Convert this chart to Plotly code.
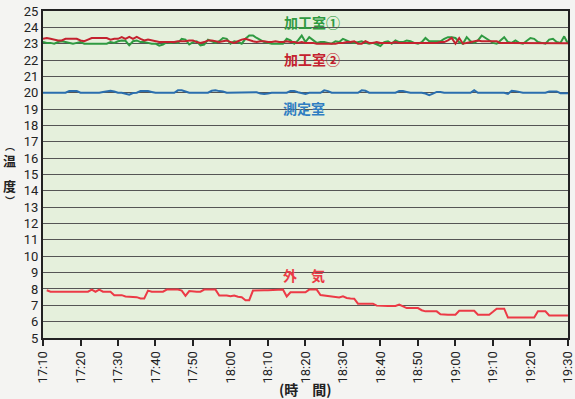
import pandas as pd
import plotly.graph_objects as go

# ---- data (per-minute readings, 17:10 -> 19:30) ----
start = "2000-01-01 17:10"
minutes = list(range(0, 141))

room1 = [23.1, 23.05, 23.05, 23.0, 23.1, 23.15, 23.1, 23.05, 23.0, 23.05,
         23.1, 23.0, 23.0, 23.0, 23.0, 23.0, 23.0, 23.0, 23.1, 23.05,
         23.15, 23.2, 23.18, 22.9, 23.15, 23.2, 23.1, 23.1, 23.05, 23.0,
         23.0, 22.88, 22.95, 23.1, 23.05, 23.1, 23.05, 23.3, 23.25, 22.95,
         23.1, 23.15, 22.9, 22.95, 23.25, 23.15, 23.05, 23.15, 23.35, 23.3,
         23.0, 23.15, 23.1, 23.0, 23.3, 23.5, 23.5, 23.35, 23.2, 23.1,
         23.05, 23.0, 23.0, 23.0, 23.0, 23.3, 23.2, 23.0, 23.2, 23.5,
         23.1, 23.4, 23.2, 23.05, 23.1, 23.1, 23.05, 23.0, 23.15, 23.1,
         23.3, 23.2, 23.1, 23.05, 23.1, 23.15, 23.05, 23.0, 23.05, 22.95,
         22.86, 23.1, 23.15, 23.0, 23.2, 23.1, 23.1, 23.2, 23.15, 23.05,
         23.0, 23.1, 23.35, 23.15, 23.15, 23.15, 23.15, 23.3, 23.4, 23.4,
         23.35, 23.1, 23.0, 23.4, 23.15, 23.05, 23.2, 23.5, 23.35, 23.2,
         23.05, 23.0, 23.2, 23.4, 23.1, 23.05, 23.2, 23.05, 23.0, 23.15,
         23.35, 23.3, 23.1, 23.05, 23.0, 23.25, 23.3, 23.1, 23.05, 23.45,
         23.0]

room2 = [23.3, 23.35, 23.3, 23.25, 23.2, 23.2, 23.3, 23.3, 23.3, 23.3,
         23.2, 23.15, 23.25, 23.35, 23.35, 23.35, 23.35, 23.35, 23.25, 23.3,
         23.3, 23.4, 23.3, 23.42, 23.3, 23.42, 23.3, 23.2, 23.25, 23.2,
         23.15, 23.1, 23.1, 23.1, 23.1, 23.1, 23.15, 23.15, 23.15, 23.2,
         23.2, 23.1, 23.05, 23.1, 23.2, 23.2, 23.15, 23.1, 23.15, 23.2,
         23.1, 23.05, 23.15, 23.25, 23.3, 23.2, 23.15, 23.1, 23.15, 23.15,
         23.1, 23.1, 23.15, 23.1, 23.1, 23.15, 23.1, 23.1, 23.05, 23.1,
         23.05, 23.05, 23.05, 23.0, 23.0, 23.0, 23.0, 23.0, 23.0, 23.05,
         23.05, 23.1, 23.1, 23.15, 23.0, 23.0, 23.15, 23.05, 23.05, 23.1,
         23.05, 23.05, 23.05, 23.05, 23.1, 23.05, 23.05, 23.05, 23.05, 23.05,
         23.05, 23.05, 23.05, 23.05, 23.05, 23.05, 23.1, 23.1, 23.2, 23.35,
         23.0, 23.35, 23.0, 23.05, 23.1, 23.15, 23.2, 23.15, 23.15, 23.15,
         23.15, 23.15, 23.05, 23.05, 23.05, 23.02, 23.02, 23.02, 23.02, 23.02,
         23.02, 23.02, 23.02, 23.02, 23.02, 23.02, 23.02, 23.02, 23.02, 23.02,
         23.02]

measure = [20.0, 20.0, 20.0, 20.0, 20.0, 20.0, 20.0, 20.1, 20.12, 20.1,
           20.0, 20.0, 20.0, 20.0, 20.0, 20.0, 20.05, 20.08, 20.12, 20.08,
           20.0, 20.0, 19.95, 19.88, 19.98, 20.0, 20.1, 20.12, 20.1, 20.05,
           20.0, 20.0, 20.0, 20.0, 20.0, 20.0, 20.15, 20.15, 20.08, 20.0,
           20.0, 20.0, 20.0, 20.0, 20.0, 20.12, 20.15, 20.1, 20.08, 20.0,
           20.0, 20.0, 20.0, 20.0, 20.0, 20.0, 20.03, 20.03, 19.95, 19.92,
           19.95, 20.0, 20.0, 20.0, 20.0, 20.0, 20.1, 20.1, 20.03, 20.0,
           19.93, 20.0, 20.0, 20.0, 20.0, 20.15, 20.1, 20.0, 20.0, 20.0,
           20.0, 20.0, 20.0, 20.0, 20.0, 20.15, 20.12, 20.0, 20.0, 20.0,
           20.0, 20.0, 20.0, 20.0, 20.0, 20.1, 20.1, 20.05, 20.0, 20.0,
           20.0, 20.0, 19.95, 19.85, 19.95, 20.05, 20.05, 20.0, 20.0, 20.0,
           20.0, 20.0, 20.0, 20.0, 20.0, 20.15, 20.0, 20.0, 20.0, 20.0,
           20.0, 20.0, 20.0, 20.0, 19.93, 20.12, 20.1, 20.05, 20.0, 20.0,
           20.0, 20.0, 20.0, 20.0, 20.0, 20.08, 20.1, 20.08, 19.97, 19.97,
           19.97]

outside_minutes = list(range(1, 141))
outside = [7.92, 7.83, 7.83, 7.83, 7.87, 7.87, 7.87, 7.87, 7.83, 7.83,
           7.83, 7.83, 7.96, 7.83, 7.96, 7.83, 7.83, 7.83, 7.62, 7.62,
           7.62, 7.54, 7.54, 7.54, 7.5, 7.42, 7.42, 7.9, 7.83, 7.83,
           7.83, 7.83, 7.96, 7.96, 7.96, 7.96, 7.9, 7.58, 7.87, 7.83,
           7.83, 7.83, 7.96, 7.96, 7.96, 7.96, 7.6, 7.6, 7.6, 7.55,
           7.6, 7.52, 7.5, 7.31, 7.31, 7.9, 7.92, 7.92, 7.92, 7.92,
           7.92, 7.96, 7.96, 7.96, 7.54, 7.8, 7.8, 7.8, 7.8, 7.8,
           7.96, 7.96, 7.96, 7.63, 7.6, 7.6, 7.55, 7.55, 7.48, 7.55,
           7.45, 7.42, 7.4, 7.1, 7.1, 7.1, 7.1, 7.1, 6.98, 6.96,
           6.96, 6.96, 6.96, 6.96, 7.04, 6.92, 6.83, 6.83, 6.83, 6.83,
           6.7, 6.63, 6.63, 6.63, 6.63, 6.45, 6.42, 6.42, 6.42, 6.42,
           6.67, 6.67, 6.67, 6.67, 6.67, 6.42, 6.42, 6.42, 6.42, 6.6,
           6.79, 6.79, 6.79, 6.25, 6.25, 6.25, 6.25, 6.25, 6.25, 6.25,
           6.25, 6.63, 6.63, 6.63, 6.38, 6.38, 6.38, 6.38, 6.38, 6.38]

y_ticks = list(range(5, 26))
x_tick_labels = ["17:10", "17:20", "17:30", "17:40", "17:50", "18:00", "18:10",
                 "18:20", "18:30", "18:40", "18:50", "19:00", "19:10", "19:20", "19:30"]

t0 = pd.Timestamp(start)
def to_time(ms):
    return [t0 + pd.Timedelta(minutes=m) for m in ms]

x_ticks = [pd.Timestamp("2000-01-01 " + s) for s in x_tick_labels]

fig = go.Figure()
fig.add_trace(go.Scatter(x=to_time(minutes), y=room1, mode="lines",
                         line=dict(color="#2f9a41", width=2), name="加工室①"))
fig.add_trace(go.Scatter(x=to_time(minutes), y=room2, mode="lines",
                         line=dict(color="#c4222f", width=2), name="加工室②"))
fig.add_trace(go.Scatter(x=to_time(minutes), y=measure, mode="lines",
                         line=dict(color="#2a6eae", width=2), name="測定室"))
fig.add_trace(go.Scatter(x=to_time(outside_minutes), y=outside, mode="lines",
                         line=dict(color="#ec3a46", width=2), name="外気"))

cjk = "Noto Sans CJK JP"
ann = [
    dict(x=pd.Timestamp("2000-01-01 18:21:40"), y=24.35, text="<b>加工室①</b>", color="#2f9a41"),
    dict(x=pd.Timestamp("2000-01-01 18:21:40"), y=22.05, text="<b>加工室②</b>", color="#c4222f"),
    dict(x=pd.Timestamp("2000-01-01 18:19:40"), y=19.05, text="<b>測定室</b>", color="#2e7dc2"),
    dict(x=pd.Timestamp("2000-01-01 18:19:40"), y=8.85, text="<b>外　気</b>", color="#ec3a46"),
]
annotations = [dict(x=a["x"], y=a["y"], xref="x", yref="y", text=a["text"], showarrow=False,
                    font=dict(family=cjk, size=14, color=a["color"])) for a in ann]
annotations.append(dict(x=0.5, y=-0.155, xref="paper", yref="paper", text="<b>(時　間)</b>",
                        showarrow=False, yanchor="middle",
                        font=dict(family=cjk, size=14, color="#222")))
# vertical y-axis title (温度) stacked character by character
for ch, yv, fs in [("︵", 16.79, 10), ("温", 15.87, 13), ("度", 14.35, 13), ("︶", 13.43, 10)]:
    annotations.append(dict(x=-0.063, y=yv, xref="paper", yref="y",
                            text="<b>" + ch + "</b>", showarrow=False,
                            xanchor="center", yanchor="middle",
                            font=dict(family=cjk, size=fs, color="#222")))

fig.update_layout(
    width=575, height=399,
    margin=dict(l=43, r=7, t=11, b=61, autoexpand=False),
    paper_bgcolor="#f4f4f2",
    plot_bgcolor="#e5f0dc",
    showlegend=False,
    font=dict(family="Roboto", size=13, color="#222"),
    annotations=annotations,
    xaxis=dict(
        type="date", automargin=False,
        range=[x_ticks[0], x_ticks[-1] + pd.Timedelta(seconds=1)],
        tickvals=x_ticks, ticktext=x_tick_labels, tickangle=-90,
        ticklabeloverflow="allow",
        ticks="outside", ticklen=6, tickwidth=1.5, tickcolor="#222",
        showgrid=False, showline=True, linewidth=2, linecolor="#222", mirror=True,
        zeroline=False, tickfont=dict(family="Roboto", size=13, color="#222"),
    ),
    yaxis=dict(
        automargin=False,
        range=[5, 25], tickvals=y_ticks, ticktext=[str(v) for v in y_ticks],
        showgrid=True, gridcolor="#555", gridwidth=1,
        showline=True, linewidth=2, linecolor="#222", mirror=True,
        zeroline=False, ticks="", tickfont=dict(family="Roboto", size=13, color="#222"),
    ),
)

fig.write_html(
    "out.html",
    config={"displayModeBar": False},
    post_script="document.body.style.margin='0';document.body.style.background='#f4f4f2';",
)
